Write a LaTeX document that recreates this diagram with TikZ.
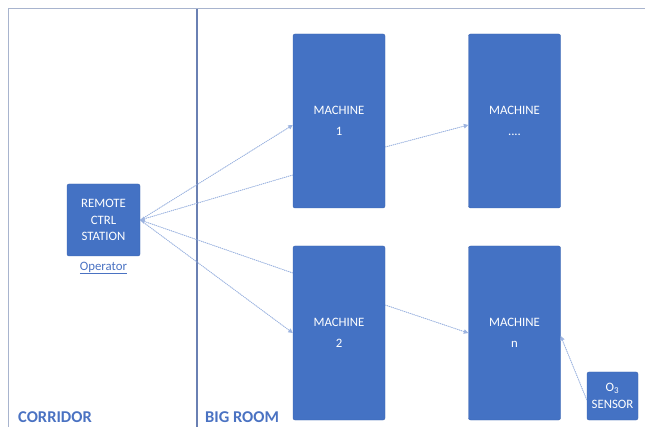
\documentclass[tikz,border=0pt]{standalone}
\usepackage{fontspec}
\setmainfont{Carlito}
\usetikzlibrary{arrows.meta}
\definecolor{boxblue}{HTML}{4472C4}
\definecolor{boxedge}{HTML}{3B63AE}
\definecolor{linkblue}{HTML}{9DB4E0}
\definecolor{framegray}{HTML}{A8B4CE}
\definecolor{wallblue}{HTML}{6A80B3}
\definecolor{roomblue}{HTML}{4A72C2}

\begin{document}
\begin{tikzpicture}[x=1pt, y=-1pt,
    unit/.style={draw=boxedge, fill=boxblue, rounded corners=2pt, text=white, align=center, inner sep=0pt, font=\fontsize{12.8}{16.5}\selectfont},
    link/.style={draw=linkblue, line width=0.9pt, dash pattern=on 1pt off 1pt},
    tip/.style={-{Triangle[length=4.5pt,width=4.5pt]}, fill=boxblue},
    room/.style={text=roomblue, anchor=base west, inner sep=0pt, font=\fontsize{16.5}{18}\selectfont\bfseries}]
    \useasboundingbox (0,0) rectangle (645,427);

    \draw[framegray, line width=1pt] (8,427) -- (8,9) -- (645,9);
    \draw[wallblue, line width=1.6pt] (197,9) -- (197,427);

    \node[unit, minimum width=73pt, minimum height=72pt] (station) at (103.5,220) {REMOTE\\CTRL\\STATION};
    \node[text=roomblue, font=\fontsize{12.8}{15}\selectfont] (operator) at (103.5,268) {\underline{Operator}};

    \node[unit, minimum width=92pt, minimum height=174pt] (m1) at (339,121) {MACHINE\\[4pt]1};
    \node[unit, minimum width=92pt, minimum height=174pt] (mdots) at (514.5,121) {MACHINE\\[4pt]....};
    \node[unit, minimum width=92pt, minimum height=174pt] (m2) at (339,333) {MACHINE\\[4pt]2};
    \node[unit, minimum width=92pt, minimum height=174pt] (mn) at (514.5,333) {MACHINE\\[4pt]n};
    \node[unit, minimum width=51pt, minimum height=48pt] (sensor) at (612.5,396) {O\textsubscript{3}\\SENSOR};

    \node[room] (corridor) at (18,422) {CORRIDOR};
    \node[room] (bigroom) at (205,422) {BIG ROOM};

    \draw[link, tip] (station.east) -- ([yshift=-4pt]m1.west);
    \draw[link, tip] ([yshift=-54pt]m1.west) -- (station.east);
    \draw[link, tip] ([yshift=60pt]m2.west) -- (station.east);
    \draw[link, tip] (station.east) -- (m2.west);
    \draw[link, tip] ([yshift=-26pt]m1.east) -- ([yshift=-4pt]mdots.west);
    \draw[link, tip] ([yshift=28pt]m2.east) -- (mn.west);
    \draw[link, tip] ([yshift=-4pt]sensor.west) -- ([yshift=-3pt]mn.east);
\end{tikzpicture}
\end{document}
